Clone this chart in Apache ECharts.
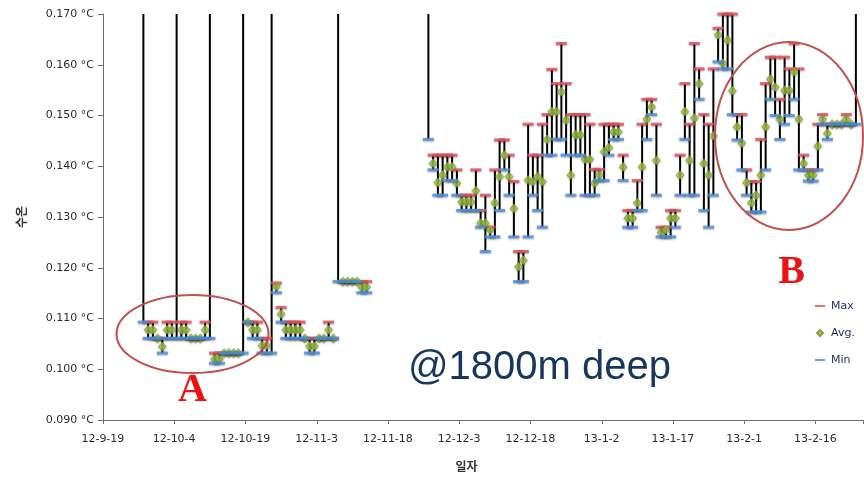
<!DOCTYPE html>
<html><head><meta charset="utf-8">
<script src="https://cdn.jsdelivr.net/npm/echarts@6/dist/echarts.min.js"></script>
<style>html,body{margin:0;padding:0;background:#fff}#c{width:864px;height:480px}</style>
</head><body><div id="c"></div>
<script>
// Daily categories from 2012-09-19 (label format YY-M-D)
const dayCount = 160;
const categories = [];
for (let i = 0; i < dayCount; i++) {
  const d = new Date(2012, 8, 19 + i);
  categories.push((d.getFullYear() % 100) + '-' + (d.getMonth() + 1) + '-' + d.getDate());
}

// Daily maximum (°C); 0.25 = spike above the top of the axis
const maxVals = [
  null,null,null,null,null,null,null,null,0.25,0.1093,
  0.1093,0.1061,0.1061,0.1093,0.1093,0.25,0.1093,0.1093,0.1061,0.1061,
  0.1061,0.1093,0.25,0.1032,0.1032,0.1032,0.1032,0.1032,0.1032,0.25,
  0.1093,0.1093,0.1093,0.1061,0.1061,0.25,0.1170,0.1122,0.1093,0.1093,
  0.1093,0.1093,0.1061,0.1061,0.1061,0.1061,0.1061,0.1093,0.1061,0.25,
  0.1173,0.1173,0.1173,0.1173,0.1173,0.1173,null,null,null,null,
  null,null,null,null,null,null,null,null,0.25,0.1422,
  0.1422,0.1422,0.1422,0.1422,0.1393,0.1343,0.1343,0.1343,0.1393,0.1313,
  0.1343,0.1280,0.1393,0.1452,0.1452,0.1422,0.1370,0.1232,0.1232,0.1483,
  0.1422,0.1422,0.1483,0.1502,0.1591,0.1563,0.1642,0.1563,0.1502,0.1502,
  0.1502,0.1502,0.1483,0.1394,0.1394,0.1483,0.1483,0.1483,0.1483,0.1422,
  0.1313,0.1313,0.1372,0.1483,0.1532,0.1532,0.1483,0.1280,0.1280,0.1313,
  0.1313,0.1422,0.1563,0.1483,0.1642,0.1592,0.1502,0.1483,0.1592,0.1672,
  0.1700,0.1700,0.1700,0.1502,0.1502,0.1393,0.1370,0.1370,0.1453,0.1563,
  0.1615,0.1615,0.1532,0.1615,0.1592,0.1642,0.1592,0.1422,0.1393,0.1393,
  0.1483,0.1502,0.1483,0.1483,0.1483,0.1483,0.1502,0.1483,0.25,null
];

// Daily average (°C)
const avgVals = [
  null,null,null,null,null,null,null,null,null,0.1078,
  0.1078,0.1061,0.1045,0.1078,0.1078,null,0.1078,0.1078,0.1061,0.1061,
  0.1061,0.1078,null,0.1020,0.1020,0.1032,0.1032,0.1032,0.1032,null,
  0.1093,0.1078,0.1078,0.1047,0.1047,null,0.1163,0.1109,0.1078,0.1078,
  0.1078,0.1078,0.1061,0.1046,0.1046,0.1061,0.1061,0.1078,0.1061,null,
  0.1173,0.1173,0.1173,0.1173,0.1162,0.1162,null,null,null,null,
  null,null,null,null,null,null,null,null,null,0.1406,
  0.1368,0.1383,0.1399,0.1399,0.1367,0.1330,0.1330,0.1330,0.1352,0.1288,
  0.1288,0.1275,0.1328,0.1380,0.1422,0.1380,0.1317,0.1202,0.1215,0.1373,
  0.1370,0.1380,0.1370,0.1453,0.1508,0.1508,0.1547,0.1491,0.1383,0.1462,
  0.1462,0.1414,0.1414,0.1367,0.1383,0.1429,0.1437,0.1468,0.1468,0.1399,
  0.1298,0.1298,0.1328,0.1399,0.1493,0.1517,0.1412,0.1270,0.1275,0.1298,
  0.1298,0.1383,0.1508,0.1412,0.1495,0.1563,0.1406,0.1383,0.1460,0.1659,
  0.1603,0.1649,0.1549,0.1478,0.1446,0.1368,0.1328,0.1343,0.1383,0.1478,
  0.1572,0.1556,0.1493,0.1550,0.1550,0.1586,0.1493,0.1406,0.1383,0.1383,
  0.1440,0.1493,0.1465,0.1483,0.1483,0.1483,0.1493,0.1483,null,null
];

// Daily minimum (°C)
const minVals = [
  null,null,null,null,null,null,null,null,0.1093,0.1061,
  0.1061,0.1061,0.1032,0.1061,0.1061,0.1061,0.1061,0.1061,0.1061,0.1061,
  0.1061,0.1061,0.1061,0.1012,0.1012,0.1032,0.1032,0.1032,0.1032,0.1032,
  0.1093,0.1061,0.1061,0.1032,0.1032,0.1032,0.1151,0.1093,0.1061,0.1061,
  0.1061,0.1061,0.1061,0.1032,0.1032,0.1061,0.1061,0.1061,0.1061,0.1173,
  0.1173,0.1173,0.1173,0.1173,0.1151,0.1151,null,null,null,null,
  null,null,null,null,null,null,null,null,0.1453,0.1393,
  0.1343,0.1343,0.1372,0.1372,0.1343,0.1313,0.1313,0.1313,0.1313,0.1280,
  0.1232,0.1261,0.1261,0.1313,0.1393,0.1343,0.1261,0.1173,0.1173,0.1261,
  0.1343,0.1313,0.1280,0.1422,0.1422,0.1453,0.1453,0.1422,0.1343,0.1422,
  0.1422,0.1343,0.1343,0.1343,0.1372,0.1372,0.1422,0.1453,0.1453,0.1372,
  0.1280,0.1280,0.1313,0.1313,0.1453,0.1502,0.1343,0.1261,0.1261,0.1261,
  0.1280,0.1343,0.1453,0.1343,0.1343,0.1532,0.1313,0.1280,0.1343,0.1606,
  0.1592,0.1592,0.1502,0.1452,0.1393,0.1343,0.1310,0.1310,0.1310,0.1393,
  0.1532,0.1500,0.1453,0.1483,0.1500,0.1532,0.1393,0.1393,0.1371,0.1371,
  0.1393,0.1483,0.1453,0.1483,0.1483,0.1483,0.1483,0.1483,0.1483,null
];

const yMin = 0.09, yMax = 0.17, yStep = 0.01;

const hiLo = [];
for (let i = 0; i < dayCount; i++) {
  if (minVals[i] != null && maxVals[i] != null) hiLo.push([i, minVals[i], maxVals[i]]);
}

const chart = echarts.init(document.getElementById('c'), null, {renderer: 'canvas'});
const labelFont = 'DejaVu Sans';
const labelColor = '#2b2b2b';
const markShadow = {shadowBlur: 2, shadowColor: 'rgba(0,0,0,0.4)', shadowOffsetY: 1};

chart.setOption({
  animation: false,
  backgroundColor: '#ffffff',
  grid: {left: 103, right: 1, top: 14, bottom: 60, containLabel: false},
  xAxis: {
    type: 'category',
    data: categories,
    boundaryGap: true,
    name: '일자',
    nameLocation: 'middle',
    nameGap: 40,
    nameTextStyle: {fontFamily: 'Noto Sans CJK KR', fontSize: 12, color: '#333333', fontWeight: 'bold', padding: [0, 33, 0, 0]},
    axisLine: {lineStyle: {color: '#6f6f6f', width: 1}},
    axisTick: {show: true, interval: 14, length: 4, lineStyle: {color: '#6f6f6f'}},
    axisLabel: {interval: 14, margin: 14, fontFamily: labelFont, fontSize: 11, color: labelColor, padding: [0, 5, 0, 0]},
    splitLine: {show: false}
  },
  yAxis: {
    type: 'value',
    min: yMin, max: yMax, interval: yStep,
    name: '수온',
    nameLocation: 'middle',
    nameRotate: 90,
    nameGap: 76,
    nameTextStyle: {fontFamily: 'Noto Sans CJK KR', fontSize: 12, color: '#333333', fontWeight: 'bold'},
    axisLine: {show: true, lineStyle: {color: '#6f6f6f', width: 1}},
    axisTick: {show: true, length: 5, lineStyle: {color: '#6f6f6f'}},
    axisLabel: {margin: 9, fontFamily: labelFont, fontSize: 11, color: labelColor,
      formatter: v => v.toFixed(3) + ' °C'},
    splitLine: {show: false}
  },
  legend: {
    orient: 'vertical',
    left: 808, top: 294,
    itemWidth: 12, itemHeight: 8, itemGap: 13,
    textStyle: {fontFamily: 'DejaVu Sans', fontSize: 11, color: '#1f2d4d', lineHeight: 14},
    data: [
      {name: 'Max', icon: 'path://M0,0 M12,8 M1,3 L11,3 L11,5 L1,5 Z'},
      {name: 'Avg.', icon: 'path://M0,0 M12,8 M6,1 L9,4 L6,7 L3,4 Z'},
      {name: 'Min', icon: 'path://M0,0 M12,8 M1,3 L11,3 L11,5 L1,5 Z'}
    ]
  },
  series: [
    {
      type: 'custom',
      name: 'range',
      clip: true,
      data: hiLo,
      encode: {x: 0, y: [1, 2]},
      renderItem: function (params, api) {
        const p1 = api.coord([api.value(0), api.value(1)]);
        const p2 = api.coord([api.value(0), api.value(2)]);
        return {type: 'line', shape: {x1: p1[0], y1: p1[1], x2: p2[0], y2: p2[1]},
          style: {stroke: '#000000', lineWidth: 2}};
      },
      z: 1
    },
    {
      type: 'scatter', name: 'Max', data: maxVals,
      symbol: 'rect', symbolSize: [11, 3],
      itemStyle: Object.assign({color: '#e24f5b'}, markShadow),
      z: 2
    },
    {
      type: 'scatter', name: 'Avg.', data: avgVals,
      symbol: 'diamond', symbolSize: [8, 9],
      itemStyle: Object.assign({color: '#a3c940', borderColor: '#6f8f1f', borderWidth: 0.6}, markShadow),
      z: 3
    },
    {
      type: 'scatter', name: 'Min', data: minVals,
      symbol: 'rect', symbolSize: [11, 3],
      itemStyle: Object.assign({color: '#4a8edb'}, markShadow),
      z: 4
    }
  ],
  graphic: [
    {type: 'ellipse', shape: {cx: 192.5, cy: 334, rx: 76, ry: 39},
      style: {fill: 'none', stroke: '#c0504d', lineWidth: 2}, z: 10},
    {type: 'ellipse', shape: {cx: 789, cy: 136, rx: 74, ry: 94},
      style: {fill: 'none', stroke: '#c0504d', lineWidth: 2}, z: 10},
    {type: 'text', x: 192.5, y: 391,
      style: {text: 'A', font: 'bold 40px "Liberation Serif"', fill: '#ee1111', textAlign: 'center', textVerticalAlign: 'middle'}, z: 10},
    {type: 'text', x: 791.5, y: 273,
      style: {text: 'B', font: 'bold 40px "Liberation Serif"', fill: '#ee1111', textAlign: 'center', textVerticalAlign: 'middle'}, z: 10},
    {type: 'text', x: 408, y: 368,
      style: {text: '@1800m deep', font: '40px "Liberation Sans"', fill: '#17375e', textAlign: 'left', textVerticalAlign: 'middle'}, z: 10}
  ]
});
</script>
</body></html>
